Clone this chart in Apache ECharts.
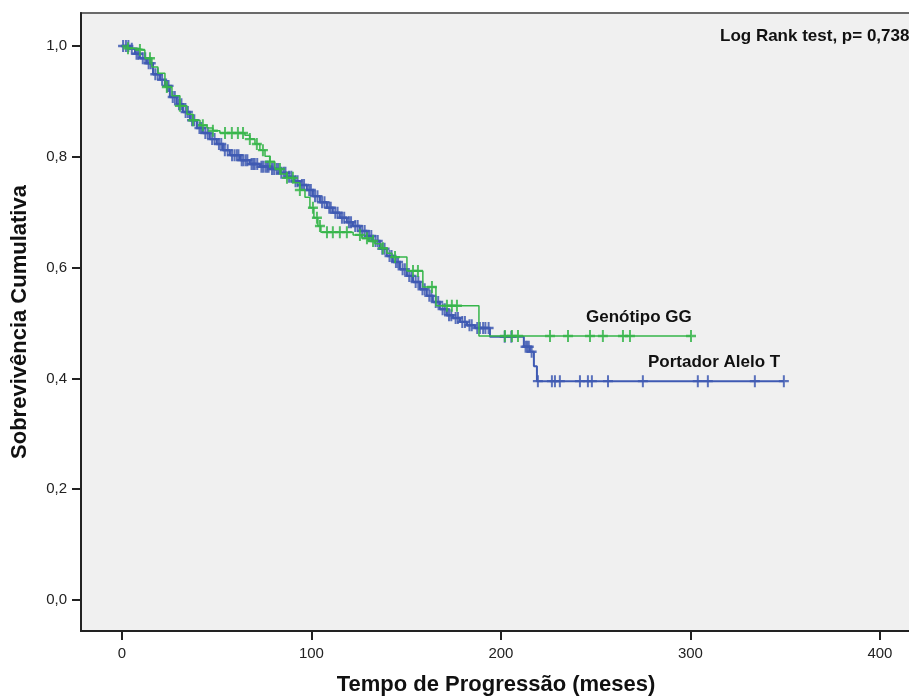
<!DOCTYPE html>
<html>
<head>
<meta charset="utf-8">
<title>Sobrevivência Cumulativa</title>
<script src="https://cdn.jsdelivr.net/npm/echarts@6/dist/echarts.min.js"></script>
<style>
html, body { margin: 0; padding: 0; background: #fff; }
#chart { width: 909px; height: 698px; }
</style>
</head>
<body>
<div id="chart"></div>
<script>
// Portador Alelo T (azul): tempos dos eventos e sobrevivência após cada evento
var blueTimes = [0, 4.2, 6.9, 9.5, 13.2, 16.4, 20.1, 22.7, 25.3, 29.0, 32.2, 35.9, 39.6, 42.7, 46.4, 50.1,
    53.3, 57.0, 62.3, 67.5, 72.8, 78.1, 83.4, 87.1, 90.8, 93.9, 97.6, 100.8, 104.5, 108.2, 111.3, 115.0,
    118.7, 121.9, 125.6, 129.3, 132.5, 136.1, 139.8, 143.0, 146.7, 150.4, 153.6, 157.3, 160.9, 164.1,
    167.8, 171.5, 174.7, 178.4, 182.1, 186.3, 194.2, 212.1, 215.3, 217.4, 219.0];
var blueSurv = [1.0, 0.995, 0.986, 0.978, 0.969, 0.949, 0.939, 0.928, 0.908, 0.895, 0.881, 0.866, 0.852, 0.843, 0.832, 0.823,
    0.812, 0.803, 0.794, 0.787, 0.782, 0.778, 0.771, 0.764, 0.756, 0.749, 0.740, 0.729, 0.718, 0.708, 0.699, 0.690,
    0.682, 0.675, 0.666, 0.657, 0.648, 0.634, 0.621, 0.610, 0.597, 0.585, 0.574, 0.561, 0.549, 0.538,
    0.525, 0.514, 0.509, 0.502, 0.496, 0.491, 0.475, 0.457, 0.448, 0.422, 0.395];
// casos censurados (+)
var blueCensor = [0.6, 2.1, 3.4, 5.2, 7.7, 8.6, 11.0, 12.3, 14.1, 15.2, 17.6, 18.9, 21.2, 23.9, 24.6, 26.8, 27.9,
    30.1, 31.4, 33.6, 34.8, 37.0, 38.2, 40.9, 41.8, 44.0, 45.3, 47.6, 48.9, 51.2, 52.4, 54.3, 55.8, 58.1, 59.4,
    60.6, 61.5, 63.2, 64.1, 65.3, 66.2, 68.4, 69.3, 70.1, 71.4, 73.6, 74.5, 75.7, 76.6, 77.4, 79.2, 80.3, 81.6,
    82.5, 84.1, 85.4, 86.3, 88.2, 89.4, 91.6, 92.7, 95.0, 96.1, 98.8, 99.7, 101.9, 103.2, 105.6, 106.9, 109.4,
    110.2, 112.6, 113.8, 116.1, 117.3, 119.8, 120.9, 123.1, 124.4, 126.8, 128.1, 130.4, 131.6, 133.8, 135.0,
    137.4, 138.6, 141.2, 142.3, 144.6, 145.7, 148.1, 149.3, 151.6, 152.8, 155.0, 156.4, 158.6, 159.8, 162.2,
    163.3, 165.6, 166.9, 169.2, 170.4, 172.6, 173.8, 176.1, 177.3, 179.6, 181.0, 183.4, 184.6, 187.5, 188.9,
    190.6, 191.8, 193.5, 202.0, 205.5, 213.0, 213.8, 214.7, 216.2, 219.5, 226.9, 228.5, 231.1, 241.7, 245.9,
    248.0, 256.5, 274.9, 303.9, 309.2, 334.0, 349.3];

// Genótipo GG (verde)
var greenTimes = [0, 3.0, 7.9, 12.1, 15.8, 19.0, 22.7, 26.4, 30.6, 34.3, 37.5, 41.2, 44.9, 48.0, 51.7, 64.9,
    67.5, 70.2, 72.8, 75.5, 78.1, 80.7, 83.9, 87.1, 90.8, 93.9, 96.6, 99.2, 101.3, 103.4, 105.0, 122.0,
    126.6, 129.8, 133.5, 136.7, 139.8, 142.5, 150.4, 158.8, 165.7, 188.4];
var greenSurv = [1.0, 0.996, 0.993, 0.978, 0.962, 0.951, 0.926, 0.910, 0.892, 0.877, 0.866, 0.857, 0.852, 0.847, 0.843, 0.839,
    0.832, 0.823, 0.812, 0.801, 0.791, 0.778, 0.769, 0.762, 0.753, 0.740, 0.727, 0.708, 0.690, 0.675, 0.664, 0.659,
    0.653, 0.648, 0.643, 0.635, 0.626, 0.619, 0.594, 0.565, 0.531, 0.4765];
var greenCensor = [3.2, 9.5, 14.8, 23.7, 30.6, 37.5, 42.7, 48.0, 54.4, 58.0, 61.2, 63.9, 67.5, 71.2, 74.4, 78.1,
    83.4, 87.1, 90.2, 93.9, 100.8, 102.9, 104.5, 108.2, 111.3, 115.0, 118.7, 125.6, 129.3, 132.5, 137.7,
    144.1, 153.6, 156.2, 163.6, 171.5, 174.1, 176.8, 202.1, 205.8, 209.0, 225.9, 235.4, 247.0, 253.8,
    264.4, 268.1, 300.3];

var xTicks = [0, 100, 200, 300, 400];
var yTicks = [0, 0.2, 0.4, 0.6, 0.8, 1.0];

var blue = '#3F5AB3';
var green = '#36B54A';
var cross = 'path://M4,0h2v4h4v2h-4v4h-2v-4h-4v-2h4z';
var fontFam = 'Liberation Sans, Arial, sans-serif';

function survAt(times, surv, t) {
    var s = surv[0];
    for (var i = 0; i < times.length; i++) {
        if (times[i] <= t) s = surv[i];
    }
    return s;
}
function stepLine(times, surv, censor) {
    var d = times.map(function (t, i) { return [t, surv[i]]; });
    var last = censor[censor.length - 1];
    d.push([last, survAt(times, surv, last)]);
    return d;
}
function censorPts(times, surv, censor) {
    return censor.map(function (c) { return [c, survAt(times, surv, c)]; });
}

var myChart = echarts.init(document.getElementById('chart'));
var option = {
    animation: false,
    backgroundColor: '#fff',
    grid: {
        left: 81, top: 13, right: -2, bottom: 67,
        outerBoundsMode: 'none', containLabel: false,
        show: true, backgroundColor: '#F0F0F0', borderColor: '#6a6a6a', borderWidth: 2
    },
    xAxis: {
        type: 'value', min: -21.6, max: 416.4,
        name: 'Tempo de Progressão (meses)',
        nameLocation: 'middle', nameGap: 43,
        nameTextStyle: { fontSize: 22, fontWeight: 'bold', color: '#111', fontFamily: fontFam },
        axisLine: { show: true, onZero: false, lineStyle: { color: '#222', width: 2 } },
        axisTick: { show: true, customValues: xTicks, length: 9, lineStyle: { color: '#222', width: 2 } },
        axisLabel: { customValues: xTicks, margin: 15, fontSize: 15, color: '#222', fontFamily: fontFam },
        splitLine: { show: false }
    },
    yAxis: {
        type: 'value', min: -0.056, max: 1.0596,
        name: 'Sobrevivência Cumulativa',
        nameLocation: 'middle', nameGap: 50, nameRotate: 90,
        nameTextStyle: { fontSize: 22, fontWeight: 'bold', color: '#111', fontFamily: fontFam },
        axisLine: { show: true, onZero: false, lineStyle: { color: '#222', width: 2 } },
        axisTick: { show: true, customValues: yTicks, length: 9, lineStyle: { color: '#222', width: 2 } },
        axisLabel: {
            customValues: yTicks, margin: 14, fontSize: 15, color: '#222', fontFamily: fontFam,
            formatter: function (v) { return v.toFixed(1).replace('.', ','); }
        },
        splitLine: { show: false }
    },
    series: [
        {
            name: 'Portador Alelo T', type: 'line', step: 'end', symbol: 'none',
            data: stepLine(blueTimes, blueSurv, blueCensor),
            lineStyle: { color: blue, width: 2 }, z: 2
        },
        {
            name: 'Portador Alelo T (censurado)', type: 'scatter', symbol: cross, symbolSize: [10, 12],
            data: censorPts(blueTimes, blueSurv, blueCensor),
            itemStyle: { color: blue, opacity: 0.85 }, z: 3
        },
        {
            name: 'Genótipo GG', type: 'line', step: 'end', symbol: 'none',
            data: stepLine(greenTimes, greenSurv, greenCensor),
            lineStyle: { color: green, width: 1.5 }, z: 4
        },
        {
            name: 'Genótipo GG (censurado)', type: 'scatter', symbol: cross, symbolSize: [10, 12],
            data: censorPts(greenTimes, greenSurv, greenCensor),
            itemStyle: { color: green, opacity: 0.85 }, z: 5
        }
    ],
    graphic: [
        { type: 'text', left: 720, top: 28, z: 10,
          style: { text: 'Log Rank test, p= 0,738', font: 'bold 17px ' + fontFam, fill: '#111' } },
        { type: 'text', left: 586, top: 309, z: 10,
          style: { text: 'Genótipo GG', font: 'bold 17px ' + fontFam, fill: '#111' } },
        { type: 'text', left: 648, top: 354, z: 10,
          style: { text: 'Portador Alelo T', font: 'bold 17px ' + fontFam, fill: '#111' } }
    ]
};
myChart.setOption(option);
window.onresize = myChart.resize;
</script>
</body>
</html>
